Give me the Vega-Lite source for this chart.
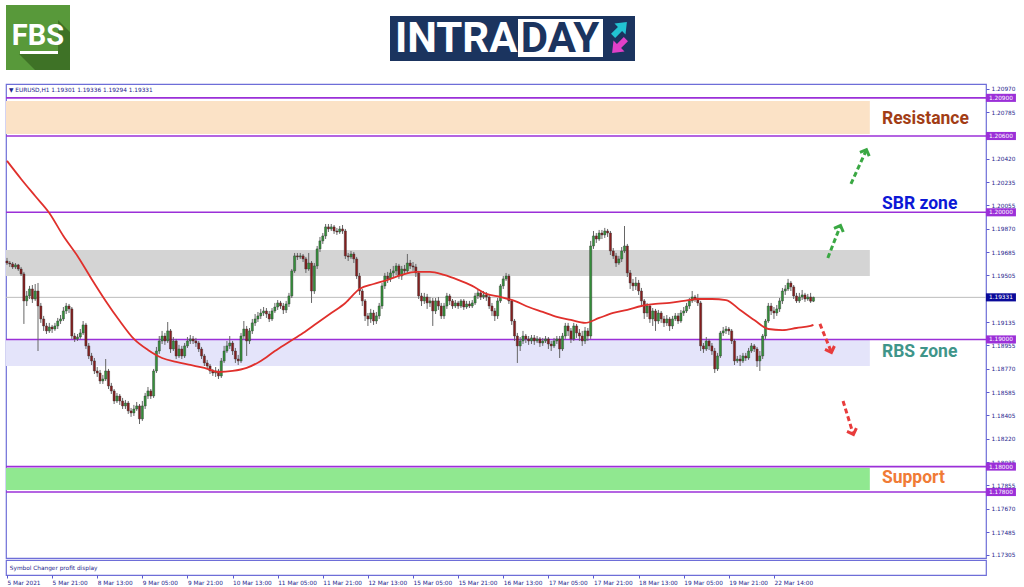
{
"$schema":"https://vega.github.io/schema/vega-lite/v6.json",
"background":"white",
"padding":{"left":2,"top":0,"right":0,"bottom":0},
"spacing":0,
"config":{"view":{"stroke":"#6e6ed8","strokeWidth":1.2},"font":"DejaVu Sans","axis":{"labelFont":"DejaVu Sans","labelOverlap":false,"labelBound":false},"scale":{"continuousPadding":0}},
"datasets":{
"zones":[{"zone":"resistance","lo":1.20616,"hi":1.20876},{"zone":"upper","lo":1.19499,"hi":1.19703},{"zone":"lower","lo":1.18791,"hi":1.18996},{"zone":"support","lo":1.17816,"hi":1.17989}],
"levels":[{"p":1.209},{"p":1.206},{"p":1.2},{"p":1.19},{"p":1.18},{"p":1.178}],
"boxes":[{"p":1.209,"kind":"level"},{"p":1.206,"kind":"level"},{"p":1.2,"kind":"level"},{"p":1.19331,"kind":"price"},{"p":1.19,"kind":"level"},{"p":1.18,"kind":"level"},{"p":1.178,"kind":"level"}],
"notes":[{"label":"Resistance","p":1.20734},{"label":"SBR zone","p":1.20065},{"label":"RBS zone","p":1.18901},{"label":"Support","p":1.17909}],
"arrows":[{"dir":"up","x1":299.3,"p1":1.20223,"x2":304.6,"p2":1.20482},{"dir":"up","x1":291.1,"p1":1.19641,"x2":295.4,"p2":1.19885},{"dir":"down","x1":288.3,"p1":1.19122,"x2":292.2,"p2":1.18909},{"dir":"down","x1":296.5,"p1":1.18516,"x2":300,"p2":1.18264}],
"candles":[
{"i":0,"o":1.19617,"h":1.19641,"l":1.19586,"c":1.19601,"ma":1.20404},
{"i":1,"o":1.19601,"h":1.19617,"l":1.19570,"c":1.19594},
{"i":2,"o":1.19594,"h":1.19609,"l":1.19554,"c":1.19570},
{"i":3,"o":1.19570,"h":1.19601,"l":1.19554,"c":1.19586},
{"i":4,"o":1.19586,"h":1.19594,"l":1.19539,"c":1.19554},
{"i":5,"o":1.19554,"h":1.19570,"l":1.19499,"c":1.19515,"ma":1.20262},
{"i":6,"o":1.19515,"h":1.19531,"l":1.19122,"c":1.19303},
{"i":7,"o":1.19303,"h":1.19381,"l":1.19263,"c":1.19342},
{"i":8,"o":1.19342,"h":1.19421,"l":1.19318,"c":1.19397},
{"i":9,"o":1.19397,"h":1.19428,"l":1.19287,"c":1.19318},
{"i":10,"o":1.19318,"h":1.19436,"l":1.19303,"c":1.19381,"ma":1.20128},
{"i":11,"o":1.19381,"h":1.19444,"l":1.18909,"c":1.19263},
{"i":12,"o":1.19263,"h":1.19287,"l":1.19130,"c":1.19161},
{"i":13,"o":1.19161,"h":1.19185,"l":1.19067,"c":1.19106},
{"i":14,"o":1.19106,"h":1.19130,"l":1.19043,"c":1.19067},
{"i":15,"o":1.19067,"h":1.19130,"l":1.19051,"c":1.19098,"ma":1.19995},
{"i":16,"o":1.19098,"h":1.19114,"l":1.19051,"c":1.19082},
{"i":17,"o":1.19082,"h":1.19130,"l":1.19067,"c":1.19106},
{"i":18,"o":1.19106,"h":1.19169,"l":1.19082,"c":1.19145},
{"i":19,"o":1.19145,"h":1.19192,"l":1.19122,"c":1.19161},
{"i":20,"o":1.19161,"h":1.19255,"l":1.19145,"c":1.19224,"ma":1.19814},
{"i":21,"o":1.19224,"h":1.19287,"l":1.19200,"c":1.19263},
{"i":22,"o":1.19263,"h":1.19279,"l":1.19208,"c":1.19240},
{"i":23,"o":1.19240,"h":1.19255,"l":1.19004,"c":1.19027},
{"i":24,"o":1.19027,"h":1.19051,"l":1.18980,"c":1.19004},
{"i":25,"o":1.19004,"h":1.19043,"l":1.18988,"c":1.19019,"ma":1.19657},
{"i":26,"o":1.19019,"h":1.19082,"l":1.19004,"c":1.19051},
{"i":27,"o":1.19051,"h":1.19145,"l":1.19035,"c":1.19114},
{"i":28,"o":1.19114,"h":1.19130,"l":1.18925,"c":1.18949},
{"i":29,"o":1.18949,"h":1.18972,"l":1.18846,"c":1.18870},
{"i":30,"o":1.18870,"h":1.18894,"l":1.18799,"c":1.18831,"ma":1.19476},
{"i":31,"o":1.18831,"h":1.18854,"l":1.18728,"c":1.18752},
{"i":32,"o":1.18752,"h":1.18783,"l":1.18705,"c":1.18736},
{"i":33,"o":1.18736,"h":1.18760,"l":1.18650,"c":1.18673},
{"i":34,"o":1.18673,"h":1.18721,"l":1.18650,"c":1.18689},
{"i":35,"o":1.18689,"h":1.18846,"l":1.18673,"c":1.18752,"ma":1.19303},
{"i":36,"o":1.18752,"h":1.18768,"l":1.18610,"c":1.18634},
{"i":37,"o":1.18634,"h":1.18658,"l":1.18571,"c":1.18595},
{"i":38,"o":1.18595,"h":1.18610,"l":1.18492,"c":1.18516},
{"i":39,"o":1.18516,"h":1.18579,"l":1.18500,"c":1.18555},
{"i":40,"o":1.18555,"h":1.18571,"l":1.18485,"c":1.18516,"ma":1.19145},
{"i":41,"o":1.18516,"h":1.18540,"l":1.18453,"c":1.18477},
{"i":42,"o":1.18477,"h":1.18524,"l":1.18453,"c":1.18500},
{"i":43,"o":1.18500,"h":1.18516,"l":1.18414,"c":1.18438},
{"i":44,"o":1.18438,"h":1.18461,"l":1.18391,"c":1.18422},
{"i":45,"o":1.18422,"h":1.18485,"l":1.18398,"c":1.18453,"ma":1.19004},
{"i":46,"o":1.18453,"h":1.18508,"l":1.18438,"c":1.18477},
{"i":47,"o":1.18477,"h":1.18492,"l":1.18335,"c":1.18375},
{"i":48,"o":1.18375,"h":1.18516,"l":1.18359,"c":1.18477},
{"i":49,"o":1.18477,"h":1.18579,"l":1.18453,"c":1.18555},
{"i":50,"o":1.18555,"h":1.18626,"l":1.18532,"c":1.18595,"ma":1.18917},
{"i":51,"o":1.18595,"h":1.18610,"l":1.18532,"c":1.18555},
{"i":52,"o":1.18555,"h":1.18768,"l":1.18540,"c":1.18752},
{"i":53,"o":1.18752,"h":1.18941,"l":1.18736,"c":1.18909},
{"i":54,"o":1.18909,"h":1.19027,"l":1.18886,"c":1.18988},
{"i":55,"o":1.18988,"h":1.19067,"l":1.18964,"c":1.19027,"ma":1.18854},
{"i":56,"o":1.19027,"h":1.19051,"l":1.18957,"c":1.18988},
{"i":57,"o":1.18988,"h":1.19137,"l":1.18972,"c":1.19067},
{"i":58,"o":1.19067,"h":1.19082,"l":1.18894,"c":1.18925},
{"i":59,"o":1.18925,"h":1.19019,"l":1.18909,"c":1.18988},
{"i":60,"o":1.18988,"h":1.19004,"l":1.18846,"c":1.18870,"ma":1.18823},
{"i":61,"o":1.18870,"h":1.18957,"l":1.18854,"c":1.18925},
{"i":62,"o":1.18925,"h":1.18949,"l":1.18846,"c":1.18870},
{"i":63,"o":1.18870,"h":1.18972,"l":1.18854,"c":1.18949},
{"i":64,"o":1.18949,"h":1.19019,"l":1.18933,"c":1.18988},
{"i":65,"o":1.18988,"h":1.19035,"l":1.18964,"c":1.19004,"ma":1.18799},
{"i":66,"o":1.19004,"h":1.19027,"l":1.18964,"c":1.18988},
{"i":67,"o":1.18988,"h":1.19012,"l":1.18941,"c":1.18972},
{"i":68,"o":1.18972,"h":1.18988,"l":1.18901,"c":1.18925},
{"i":69,"o":1.18925,"h":1.18941,"l":1.18846,"c":1.18870},
{"i":70,"o":1.18870,"h":1.18886,"l":1.18791,"c":1.18815,"ma":1.18776},
{"i":71,"o":1.18815,"h":1.18839,"l":1.18768,"c":1.18791},
{"i":72,"o":1.18791,"h":1.18807,"l":1.18728,"c":1.18752},
{"i":73,"o":1.18752,"h":1.18768,"l":1.18713,"c":1.18736},
{"i":74,"o":1.18736,"h":1.18783,"l":1.18705,"c":1.18752},
{"i":75,"o":1.18752,"h":1.18768,"l":1.18689,"c":1.18713,"ma":1.18744},
{"i":76,"o":1.18713,"h":1.18854,"l":1.18697,"c":1.18831},
{"i":77,"o":1.18831,"h":1.18949,"l":1.18815,"c":1.18909},
{"i":78,"o":1.18909,"h":1.18988,"l":1.18894,"c":1.18949},
{"i":79,"o":1.18949,"h":1.19027,"l":1.18925,"c":1.18972},
{"i":80,"o":1.18972,"h":1.18988,"l":1.18878,"c":1.18909,"ma":1.18752},
{"i":81,"o":1.18909,"h":1.18933,"l":1.18815,"c":1.18846},
{"i":82,"o":1.18846,"h":1.18878,"l":1.18799,"c":1.18831},
{"i":83,"o":1.18831,"h":1.19051,"l":1.18815,"c":1.19027},
{"i":84,"o":1.19027,"h":1.19145,"l":1.19004,"c":1.19082},
{"i":85,"o":1.19082,"h":1.19106,"l":1.18870,"c":1.18988,"ma":1.18776},
{"i":86,"o":1.18988,"h":1.19090,"l":1.18964,"c":1.19067},
{"i":87,"o":1.19067,"h":1.19161,"l":1.19043,"c":1.19130},
{"i":88,"o":1.19130,"h":1.19200,"l":1.19106,"c":1.19161},
{"i":89,"o":1.19161,"h":1.19216,"l":1.19137,"c":1.19185},
{"i":90,"o":1.19185,"h":1.19240,"l":1.19161,"c":1.19208,"ma":1.18831},
{"i":91,"o":1.19208,"h":1.19255,"l":1.19185,"c":1.19224},
{"i":92,"o":1.19224,"h":1.19247,"l":1.19169,"c":1.19200},
{"i":93,"o":1.19200,"h":1.19224,"l":1.19137,"c":1.19161},
{"i":94,"o":1.19161,"h":1.19247,"l":1.19145,"c":1.19224},
{"i":95,"o":1.19224,"h":1.19287,"l":1.19208,"c":1.19255,"ma":1.18909},
{"i":96,"o":1.19255,"h":1.19310,"l":1.19232,"c":1.19287},
{"i":97,"o":1.19287,"h":1.19303,"l":1.19240,"c":1.19263},
{"i":98,"o":1.19263,"h":1.19287,"l":1.19200,"c":1.19232},
{"i":99,"o":1.19232,"h":1.19303,"l":1.19208,"c":1.19279},
{"i":100,"o":1.19279,"h":1.19366,"l":1.19255,"c":1.19342,"ma":1.18980},
{"i":101,"o":1.19342,"h":1.19554,"l":1.19326,"c":1.19539},
{"i":102,"o":1.19539,"h":1.19680,"l":1.19523,"c":1.19657},
{"i":103,"o":1.19657,"h":1.19680,"l":1.19625,"c":1.19649},
{"i":104,"o":1.19649,"h":1.19680,"l":1.19633,"c":1.19657},
{"i":105,"o":1.19657,"h":1.19672,"l":1.19609,"c":1.19633,"ma":1.19051},
{"i":106,"o":1.19633,"h":1.19649,"l":1.19523,"c":1.19554},
{"i":107,"o":1.19554,"h":1.19680,"l":1.19539,"c":1.19601},
{"i":108,"o":1.19601,"h":1.19617,"l":1.19287,"c":1.19381},
{"i":109,"o":1.19381,"h":1.19601,"l":1.19358,"c":1.19578},
{"i":110,"o":1.19578,"h":1.19735,"l":1.19554,"c":1.19712,"ma":1.19130},
{"i":111,"o":1.19712,"h":1.19806,"l":1.19688,"c":1.19775},
{"i":112,"o":1.19775,"h":1.19837,"l":1.19751,"c":1.19814},
{"i":113,"o":1.19814,"h":1.19908,"l":1.19790,"c":1.19885},
{"i":114,"o":1.19885,"h":1.19908,"l":1.19845,"c":1.19869},
{"i":115,"o":1.19869,"h":1.19908,"l":1.19853,"c":1.19885,"ma":1.19208},
{"i":116,"o":1.19885,"h":1.19900,"l":1.19830,"c":1.19853},
{"i":117,"o":1.19853,"h":1.19877,"l":1.19822,"c":1.19845},
{"i":118,"o":1.19845,"h":1.19892,"l":1.19830,"c":1.19869},
{"i":119,"o":1.19869,"h":1.19900,"l":1.19830,"c":1.19853},
{"i":120,"o":1.19853,"h":1.19869,"l":1.19633,"c":1.19657,"ma":1.19287},
{"i":121,"o":1.19657,"h":1.19680,"l":1.19617,"c":1.19649},
{"i":122,"o":1.19649,"h":1.19696,"l":1.19633,"c":1.19672},
{"i":123,"o":1.19672,"h":1.19688,"l":1.19601,"c":1.19633},
{"i":124,"o":1.19633,"h":1.19649,"l":1.19476,"c":1.19499},
{"i":125,"o":1.19499,"h":1.19523,"l":1.19350,"c":1.19381,"ma":1.19397},
{"i":126,"o":1.19381,"h":1.19397,"l":1.19263,"c":1.19303},
{"i":127,"o":1.19303,"h":1.19318,"l":1.19145,"c":1.19185},
{"i":128,"o":1.19185,"h":1.19208,"l":1.19106,"c":1.19161},
{"i":129,"o":1.19161,"h":1.19240,"l":1.19130,"c":1.19208},
{"i":130,"o":1.19208,"h":1.19232,"l":1.19114,"c":1.19145,"ma":1.19436},
{"i":131,"o":1.19145,"h":1.19216,"l":1.19122,"c":1.19185},
{"i":132,"o":1.19185,"h":1.19287,"l":1.19161,"c":1.19263},
{"i":133,"o":1.19263,"h":1.19444,"l":1.19240,"c":1.19421},
{"i":134,"o":1.19421,"h":1.19523,"l":1.19397,"c":1.19499},
{"i":135,"o":1.19499,"h":1.19531,"l":1.19444,"c":1.19476,"ma":1.19468},
{"i":136,"o":1.19476,"h":1.19554,"l":1.19452,"c":1.19523},
{"i":137,"o":1.19523,"h":1.19578,"l":1.19491,"c":1.19539},
{"i":138,"o":1.19539,"h":1.19601,"l":1.19507,"c":1.19578},
{"i":139,"o":1.19578,"h":1.19594,"l":1.19476,"c":1.19499},
{"i":140,"o":1.19499,"h":1.19578,"l":1.19468,"c":1.19554,"ma":1.19507},
{"i":141,"o":1.19554,"h":1.19586,"l":1.19507,"c":1.19539},
{"i":142,"o":1.19539,"h":1.19672,"l":1.19523,"c":1.19601},
{"i":143,"o":1.19601,"h":1.19625,"l":1.19554,"c":1.19578},
{"i":144,"o":1.19578,"h":1.19609,"l":1.19539,"c":1.19570},
{"i":145,"o":1.19570,"h":1.19594,"l":1.19491,"c":1.19523,"ma":1.19531},
{"i":146,"o":1.19523,"h":1.19539,"l":1.19318,"c":1.19342},
{"i":147,"o":1.19342,"h":1.19366,"l":1.19263,"c":1.19303},
{"i":148,"o":1.19303,"h":1.19366,"l":1.19279,"c":1.19334},
{"i":149,"o":1.19334,"h":1.19358,"l":1.19240,"c":1.19287},
{"i":150,"o":1.19287,"h":1.19334,"l":1.19255,"c":1.19303,"ma":1.19531},
{"i":151,"o":1.19303,"h":1.19326,"l":1.19106,"c":1.19224},
{"i":152,"o":1.19224,"h":1.19326,"l":1.19200,"c":1.19303},
{"i":153,"o":1.19303,"h":1.19334,"l":1.19232,"c":1.19263},
{"i":154,"o":1.19263,"h":1.19287,"l":1.19161,"c":1.19185},
{"i":155,"o":1.19185,"h":1.19287,"l":1.19161,"c":1.19263,"ma":1.19507},
{"i":156,"o":1.19263,"h":1.19366,"l":1.19240,"c":1.19342},
{"i":157,"o":1.19342,"h":1.19358,"l":1.19271,"c":1.19303},
{"i":158,"o":1.19303,"h":1.19318,"l":1.19240,"c":1.19263},
{"i":159,"o":1.19263,"h":1.19310,"l":1.19247,"c":1.19287},
{"i":160,"o":1.19287,"h":1.19303,"l":1.19240,"c":1.19263,"ma":1.19468},
{"i":161,"o":1.19263,"h":1.19318,"l":1.19247,"c":1.19303},
{"i":162,"o":1.19303,"h":1.19318,"l":1.19232,"c":1.19255},
{"i":163,"o":1.19255,"h":1.19303,"l":1.19240,"c":1.19279},
{"i":164,"o":1.19279,"h":1.19303,"l":1.19247,"c":1.19263},
{"i":165,"o":1.19263,"h":1.19310,"l":1.19247,"c":1.19287,"ma":1.19421},
{"i":166,"o":1.19287,"h":1.19366,"l":1.19271,"c":1.19342},
{"i":167,"o":1.19342,"h":1.19389,"l":1.19318,"c":1.19366},
{"i":168,"o":1.19366,"h":1.19381,"l":1.19310,"c":1.19334},
{"i":169,"o":1.19334,"h":1.19381,"l":1.19318,"c":1.19350},
{"i":170,"o":1.19350,"h":1.19373,"l":1.19303,"c":1.19334,"ma":1.19358},
{"i":171,"o":1.19334,"h":1.19350,"l":1.19240,"c":1.19263},
{"i":172,"o":1.19263,"h":1.19287,"l":1.19185,"c":1.19224},
{"i":173,"o":1.19224,"h":1.19247,"l":1.19145,"c":1.19185},
{"i":174,"o":1.19185,"h":1.19326,"l":1.19161,"c":1.19303},
{"i":175,"o":1.19303,"h":1.19436,"l":1.19287,"c":1.19421,"ma":1.19334},
{"i":176,"o":1.19421,"h":1.19499,"l":1.19397,"c":1.19476},
{"i":177,"o":1.19476,"h":1.19523,"l":1.19460,"c":1.19499},
{"i":178,"o":1.19499,"h":1.19515,"l":1.19279,"c":1.19303},
{"i":179,"o":1.19303,"h":1.19318,"l":1.19114,"c":1.19145},
{"i":180,"o":1.19145,"h":1.19161,"l":1.18988,"c":1.19027,"ma":1.19303},
{"i":181,"o":1.19027,"h":1.19051,"l":1.18815,"c":1.18949},
{"i":182,"o":1.18949,"h":1.19019,"l":1.18909,"c":1.18988},
{"i":183,"o":1.18988,"h":1.19067,"l":1.18964,"c":1.19027},
{"i":184,"o":1.19027,"h":1.19043,"l":1.18972,"c":1.19004},
{"i":185,"o":1.19004,"h":1.19027,"l":1.18957,"c":1.18988,"ma":1.19255},
{"i":186,"o":1.18988,"h":1.19035,"l":1.18964,"c":1.19012},
{"i":187,"o":1.19012,"h":1.19035,"l":1.18957,"c":1.18988},
{"i":188,"o":1.18988,"h":1.19027,"l":1.18972,"c":1.19004},
{"i":189,"o":1.19004,"h":1.19019,"l":1.18941,"c":1.18972},
{"i":190,"o":1.18972,"h":1.19012,"l":1.18949,"c":1.18988,"ma":1.19216},
{"i":191,"o":1.18988,"h":1.19027,"l":1.18972,"c":1.19004},
{"i":192,"o":1.19004,"h":1.19019,"l":1.18925,"c":1.18964},
{"i":193,"o":1.18964,"h":1.18988,"l":1.18909,"c":1.18949},
{"i":194,"o":1.18949,"h":1.19012,"l":1.18933,"c":1.18988},
{"i":195,"o":1.18988,"h":1.19027,"l":1.18964,"c":1.19004,"ma":1.19177},
{"i":196,"o":1.19004,"h":1.19027,"l":1.18854,"c":1.18925},
{"i":197,"o":1.18925,"h":1.19051,"l":1.18909,"c":1.19027},
{"i":198,"o":1.19027,"h":1.19130,"l":1.19004,"c":1.19106},
{"i":199,"o":1.19106,"h":1.19130,"l":1.19027,"c":1.19067},
{"i":200,"o":1.19067,"h":1.19090,"l":1.18972,"c":1.19004,"ma":1.19153},
{"i":201,"o":1.19004,"h":1.19130,"l":1.18988,"c":1.19106},
{"i":202,"o":1.19106,"h":1.19122,"l":1.19012,"c":1.19051},
{"i":203,"o":1.19051,"h":1.19082,"l":1.18988,"c":1.19027},
{"i":204,"o":1.19027,"h":1.19067,"l":1.18949,"c":1.18988},
{"i":205,"o":1.18988,"h":1.19098,"l":1.18964,"c":1.19067,"ma":1.19130},
{"i":206,"o":1.19067,"h":1.19090,"l":1.18988,"c":1.19027},
{"i":207,"o":1.19027,"h":1.19775,"l":1.19004,"c":1.19735},
{"i":208,"o":1.19735,"h":1.19853,"l":1.19712,"c":1.19814},
{"i":209,"o":1.19814,"h":1.19837,"l":1.19759,"c":1.19790},
{"i":210,"o":1.19790,"h":1.19861,"l":1.19775,"c":1.19837,"ma":1.19169},
{"i":211,"o":1.19837,"h":1.19861,"l":1.19790,"c":1.19822},
{"i":212,"o":1.19822,"h":1.19877,"l":1.19798,"c":1.19853},
{"i":213,"o":1.19853,"h":1.19869,"l":1.19806,"c":1.19837},
{"i":214,"o":1.19837,"h":1.19853,"l":1.19664,"c":1.19696},
{"i":215,"o":1.19696,"h":1.19719,"l":1.19633,"c":1.19657,"ma":1.19208},
{"i":216,"o":1.19657,"h":1.19680,"l":1.19570,"c":1.19601},
{"i":217,"o":1.19601,"h":1.19657,"l":1.19586,"c":1.19633},
{"i":218,"o":1.19633,"h":1.19727,"l":1.19609,"c":1.19696},
{"i":219,"o":1.19696,"h":1.19892,"l":1.19680,"c":1.19735},
{"i":220,"o":1.19735,"h":1.19751,"l":1.19491,"c":1.19523,"ma":1.19232},
{"i":221,"o":1.19523,"h":1.19546,"l":1.19397,"c":1.19444},
{"i":222,"o":1.19444,"h":1.19476,"l":1.19381,"c":1.19421},
{"i":223,"o":1.19421,"h":1.19491,"l":1.19389,"c":1.19444},
{"i":224,"o":1.19444,"h":1.19468,"l":1.19350,"c":1.19381},
{"i":225,"o":1.19381,"h":1.19405,"l":1.19271,"c":1.19303,"ma":1.19263},
{"i":226,"o":1.19303,"h":1.19318,"l":1.19161,"c":1.19208},
{"i":227,"o":1.19208,"h":1.19287,"l":1.19177,"c":1.19263},
{"i":228,"o":1.19263,"h":1.19279,"l":1.19130,"c":1.19161},
{"i":229,"o":1.19161,"h":1.19247,"l":1.19106,"c":1.19224},
{"i":230,"o":1.19224,"h":1.19240,"l":1.19067,"c":1.19145,"ma":1.19279},
{"i":231,"o":1.19145,"h":1.19232,"l":1.19122,"c":1.19208},
{"i":232,"o":1.19208,"h":1.19224,"l":1.19130,"c":1.19161},
{"i":233,"o":1.19161,"h":1.19185,"l":1.19098,"c":1.19130},
{"i":234,"o":1.19130,"h":1.19192,"l":1.19106,"c":1.19161},
{"i":235,"o":1.19161,"h":1.19177,"l":1.19067,"c":1.19106,"ma":1.19287},
{"i":236,"o":1.19106,"h":1.19185,"l":1.19082,"c":1.19161},
{"i":237,"o":1.19161,"h":1.19208,"l":1.19145,"c":1.19185},
{"i":238,"o":1.19185,"h":1.19208,"l":1.19122,"c":1.19145},
{"i":239,"o":1.19145,"h":1.19232,"l":1.19130,"c":1.19208},
{"i":240,"o":1.19208,"h":1.19255,"l":1.19185,"c":1.19224,"ma":1.19303},
{"i":241,"o":1.19224,"h":1.19287,"l":1.19208,"c":1.19263},
{"i":242,"o":1.19263,"h":1.19326,"l":1.19240,"c":1.19303},
{"i":243,"o":1.19303,"h":1.19381,"l":1.19287,"c":1.19334},
{"i":244,"o":1.19334,"h":1.19350,"l":1.19295,"c":1.19318},
{"i":245,"o":1.19318,"h":1.19358,"l":1.19263,"c":1.19287,"ma":1.19318},
{"i":246,"o":1.19287,"h":1.19303,"l":1.18909,"c":1.18949},
{"i":247,"o":1.18949,"h":1.18972,"l":1.18894,"c":1.18925},
{"i":248,"o":1.18925,"h":1.19019,"l":1.18909,"c":1.18988},
{"i":249,"o":1.18988,"h":1.19004,"l":1.18917,"c":1.18949},
{"i":250,"o":1.18949,"h":1.18972,"l":1.18878,"c":1.18909,"ma":1.19318},
{"i":251,"o":1.18909,"h":1.18933,"l":1.18736,"c":1.18768},
{"i":252,"o":1.18768,"h":1.18894,"l":1.18752,"c":1.18870},
{"i":253,"o":1.18870,"h":1.19067,"l":1.18854,"c":1.19051},
{"i":254,"o":1.19051,"h":1.19098,"l":1.19027,"c":1.19067},
{"i":255,"o":1.19067,"h":1.19106,"l":1.19043,"c":1.19082,"ma":1.19310},
{"i":256,"o":1.19082,"h":1.19098,"l":1.19035,"c":1.19067},
{"i":257,"o":1.19067,"h":1.19082,"l":1.18964,"c":1.18988},
{"i":258,"o":1.18988,"h":1.19004,"l":1.18799,"c":1.18831},
{"i":259,"o":1.18831,"h":1.18870,"l":1.18815,"c":1.18846},
{"i":260,"o":1.18846,"h":1.18878,"l":1.18791,"c":1.18831,"ma":1.19232},
{"i":261,"o":1.18831,"h":1.18894,"l":1.18815,"c":1.18870},
{"i":262,"o":1.18870,"h":1.18894,"l":1.18831,"c":1.18854},
{"i":263,"o":1.18854,"h":1.18933,"l":1.18839,"c":1.18909},
{"i":264,"o":1.18909,"h":1.18972,"l":1.18894,"c":1.18949},
{"i":265,"o":1.18949,"h":1.18964,"l":1.18901,"c":1.18925,"ma":1.19153},
{"i":266,"o":1.18925,"h":1.18941,"l":1.18783,"c":1.18831},
{"i":267,"o":1.18831,"h":1.18909,"l":1.18752,"c":1.18870},
{"i":268,"o":1.18870,"h":1.19043,"l":1.18846,"c":1.19027},
{"i":269,"o":1.19027,"h":1.19161,"l":1.19004,"c":1.19145},
{"i":270,"o":1.19145,"h":1.19287,"l":1.19130,"c":1.19263,"ma":1.19082},
{"i":271,"o":1.19263,"h":1.19287,"l":1.19192,"c":1.19224},
{"i":272,"o":1.19224,"h":1.19255,"l":1.19161,"c":1.19208},
{"i":273,"o":1.19208,"h":1.19271,"l":1.19185,"c":1.19240},
{"i":274,"o":1.19240,"h":1.19326,"l":1.19216,"c":1.19303},
{"i":275,"o":1.19303,"h":1.19405,"l":1.19279,"c":1.19381,"ma":1.19074},
{"i":276,"o":1.19381,"h":1.19428,"l":1.19350,"c":1.19397},
{"i":277,"o":1.19397,"h":1.19476,"l":1.19381,"c":1.19444},
{"i":278,"o":1.19444,"h":1.19460,"l":1.19381,"c":1.19413},
{"i":279,"o":1.19413,"h":1.19428,"l":1.19318,"c":1.19342},
{"i":280,"o":1.19342,"h":1.19366,"l":1.19287,"c":1.19303,"ma":1.19090},
{"i":281,"o":1.19303,"h":1.19366,"l":1.19287,"c":1.19334},
{"i":282,"o":1.19334,"h":1.19389,"l":1.19310,"c":1.19350},
{"i":283,"o":1.19350,"h":1.19366,"l":1.19295,"c":1.19318},
{"i":284,"o":1.19318,"h":1.19358,"l":1.19303,"c":1.19334},
{"i":285,"o":1.19334,"h":1.19366,"l":1.19287,"c":1.19301,"ma":1.19106},
{"i":286,"o":1.19301,"h":1.19336,"l":1.19294,"c":1.19331,"ma":1.19114}
]
},
"vconcat":[
{
"width":980,"height":83,
"view":{"stroke":null},
"data":{"values":[{"logo":"header"}]},
"layer":[
{"mark":{"type":"rect","color":"#58993a"},"encoding":{"x":{"value":0},"x2":{"value":64},"y":{"value":5},"y2":{"value":70}}},
{"mark":{"type":"point","shape":"M20,-16L32,-4L32,34L-3,34L-19,18L20,18Z","filled":true,"color":"#3e7226","size":4,"opacity":1},"encoding":{"x":{"value":32},"y":{"value":36}}},
{"mark":{"type":"text","text":"FBS","font":"Roboto","fontWeight":"bold","fontSize":29,"color":"white","align":"center","baseline":"middle"},"encoding":{"x":{"value":32},"y":{"value":36}}},
{"mark":{"type":"rect","color":"white"},"encoding":{"x":{"value":14},"x2":{"value":52},"y":{"value":51},"y2":{"value":54}}},
{"mark":{"type":"rect","color":"#1b345f"},"encoding":{"x":{"value":384},"x2":{"value":629},"y":{"value":16},"y2":{"value":61}}},
{"mark":{"type":"text","text":"INTRA","font":"Roboto","fontWeight":"bold","fontSize":42,"color":"white","align":"left","baseline":"middle"},"encoding":{"x":{"value":389},"y":{"value":39}}},
{"mark":{"type":"rect","color":"white"},"encoding":{"x":{"value":512},"x2":{"value":597},"y":{"value":19},"y2":{"value":57}}},
{"mark":{"type":"text","text":"DAY","font":"Roboto","fontWeight":"bold","fontSize":42,"color":"#1b345f","align":"center","baseline":"middle"},"encoding":{"x":{"value":554},"y":{"value":39}}},
{"mark":{"type":"point","shape":"M-0.3,1L-0.3,0L-0.8,0L0,-1L0.8,0L0.3,0L0.3,1Z","filled":true,"color":"#22c3d3","size":380,"angle":45,"opacity":1},"encoding":{"x":{"value":614},"y":{"value":29}}},
{"mark":{"type":"point","shape":"M-0.3,1L-0.3,0L-0.8,0L0,-1L0.8,0L0.3,0L0.3,1Z","filled":true,"color":"#e040c8","size":380,"angle":225,"opacity":1},"encoding":{"x":{"value":613},"y":{"value":46}}}
]
},
{
"width":980,"height":474,
"resolve":{"scale":{"color":"independent"}},
"layer":[
{"data":{"name":"zones"},"mark":{"type":"rect"},"encoding":{
"x":{"datum":-0.35,"type":"quantitative","scale":{"domain":[-0.35,347.2],"nice":false,"zero":false,"padding":0},"axis":null},
"x2":{"datum":306},
"y":{"field":"lo","type":"quantitative","scale":{"domain":[1.17281,1.21009],"nice":false,"zero":false,"padding":0},"axis":{"orient":"right","title":null,"tickCount":50,"values":[1.2097,1.20785,1.2042,1.20235,1.20055,1.1987,1.19685,1.19505,1.19135,1.18955,1.1877,1.18585,1.18405,1.1822,1.18035,1.17855,1.1767,1.17485,1.17305],"format":".5f","labelFontSize":5.8,"labelColor":"#24248c","tickColor":"#5a5ad0","tickSize":3,"domain":false,"grid":false,"labelPadding":2,"labelFlush":false,"labelOverlap":false}},
"y2":{"field":"hi"},
"color":{"field":"zone","type":"nominal","scale":{"domain":["resistance","upper","lower","support"],"range":["#fbe2c6","#d4d4d4","#e4e4fa","#90e890"]},"legend":null}
}},
{"data":{"name":"levels"},"mark":{"type":"rule","color":"#9b30d8","strokeWidth":1.6},"encoding":{"y":{"field":"p","type":"quantitative","title":null}}},
{"data":{"values":[{"p":1.19331}]},"mark":{"type":"rule","color":"#bcbcbc","strokeWidth":1},"encoding":{"y":{"field":"p","type":"quantitative","title":null}}},
{"data":{"name":"candles"},"mark":{"type":"rule","color":"#666666","strokeWidth":1},"encoding":{"x":{"field":"i","type":"quantitative","title":null},"y":{"field":"l","type":"quantitative","title":null},"y2":{"field":"h"}}},
{"data":{"name":"candles"},"mark":{"type":"bar","width":2.2,"stroke":"#333333","strokeWidth":0.4},"encoding":{"x":{"field":"i","type":"quantitative","title":null},"y":{"field":"o","type":"quantitative","title":null},"y2":{"field":"c"},"color":{"condition":{"test":"datum.c >= datum.o","value":"#34903a"},"value":"#861f1f"}}},
{"data":{"name":"candles"},"transform":[{"filter":"isValid(datum.ma)"}],"mark":{"type":"line","color":"#e0302c","strokeWidth":1.8,"interpolate":"monotone"},"encoding":{"x":{"field":"i","type":"quantitative","title":null},"y":{"field":"ma","type":"quantitative","title":null}}},
{"data":{"name":"notes"},"mark":{"type":"text","font":"Roboto","fontWeight":"bold","fontSize":17.5,"align":"left","baseline":"middle"},"encoding":{"x":{"datum":310.3},"y":{"field":"p","type":"quantitative","title":null},"text":{"field":"label"},"color":{"field":"label","type":"nominal","scale":{"domain":["Resistance","SBR zone","RBS zone","Support"],"range":["#a23d15","#0c18d6","#3f958a","#f07b36"]},"legend":null}}},
{"data":{"name":"arrows"},"mark":{"type":"rule","strokeWidth":3,"strokeDash":[5,3]},"encoding":{"x":{"field":"x1","type":"quantitative","title":null},"x2":{"field":"x2"},"y":{"field":"p1","type":"quantitative","title":null},"y2":{"field":"p2"},"color":{"field":"dir","type":"nominal","scale":{"domain":["up","down"],"range":["#3aa843","#e83c3c"]},"legend":null}}},
{"data":{"name":"arrows"},"transform":[{"filter":"datum.dir === 'up'"}],"mark":{"type":"point","shape":"M-1,0.7L0,-0.3L1,0.7","filled":false,"strokeWidth":3,"size":100,"angle":22,"opacity":1,"color":"#3aa843"},"encoding":{"x":{"field":"x2","type":"quantitative","title":null},"y":{"field":"p2","type":"quantitative","title":null}}},
{"data":{"name":"arrows"},"transform":[{"filter":"datum.dir === 'down'"}],"mark":{"type":"point","shape":"M-1,0.7L0,-0.3L1,0.7","filled":false,"strokeWidth":3,"size":100,"angle":160,"opacity":1,"color":"#e83c3c"},"encoding":{"x":{"field":"x2","type":"quantitative","title":null},"y":{"field":"p2","type":"quantitative","title":null}}},
{"data":{"name":"boxes"},"mark":{"type":"point","shape":"M-1,-0.27H1V0.27H-1Z","filled":true,"size":900,"opacity":1},"encoding":{"x":{"datum":352.5},"y":{"field":"p","type":"quantitative","title":null},"color":{"field":"kind","type":"nominal","scale":{"domain":["level","price"],"range":["#9b30d8","#0a0a9a"]},"legend":null}}},
{"data":{"name":"boxes"},"mark":{"type":"text","fontSize":5.8,"color":"white","align":"center","baseline":"middle"},"encoding":{"x":{"datum":352.5},"y":{"field":"p","type":"quantitative","title":null},"text":{"field":"p","type":"quantitative","format":".5f"}}},
{"data":{"values":[{"t":"▼ EURUSD,H1  1.19301 1.19336 1.19294 1.19331"}]},"mark":{"type":"text","fontSize":5.8,"color":"#24248c","align":"left","baseline":"middle"},"encoding":{"x":{"datum":0.7},"y":{"datum":1.20962},"text":{"field":"t"}}}
]
},
{
"width":980,"height":15,
"data":{"values":[{"label":"Symbol Changer profit display"}]},
"mark":{"type":"text","align":"left","fontSize":5.8,"color":"#24248c","baseline":"middle"},
"encoding":{
"x":{"datum":1,"type":"quantitative","scale":{"domain":[-0.35,347.2],"nice":false,"zero":false,"padding":0},"axis":{"orient":"bottom","title":null,"tickCount":50,"values":[0,16,32,48,64,80,96,112,128,144,160,176,192,208,224,240,256,272],"labelExpr":"['5 Mar 2021','5 Mar 21:00','8 Mar 13:00','9 Mar 05:00','9 Mar 21:00','10 Mar 13:00','11 Mar 05:00','11 Mar 21:00','12 Mar 13:00','15 Mar 05:00','15 Mar 21:00','16 Mar 13:00','17 Mar 05:00','17 Mar 21:00','18 Mar 13:00','19 Mar 05:00','19 Mar 21:00','22 Mar 14:00'][round(datum.value/16)]","labelAlign":"left","labelFontSize":5.8,"labelColor":"#24248c","tickColor":"#5a5ad0","tickSize":3,"domain":false,"grid":false,"labelPadding":1,"labelFlush":false,"labelOverlap":false}},
"text":{"field":"label"}
}
}
]
}
